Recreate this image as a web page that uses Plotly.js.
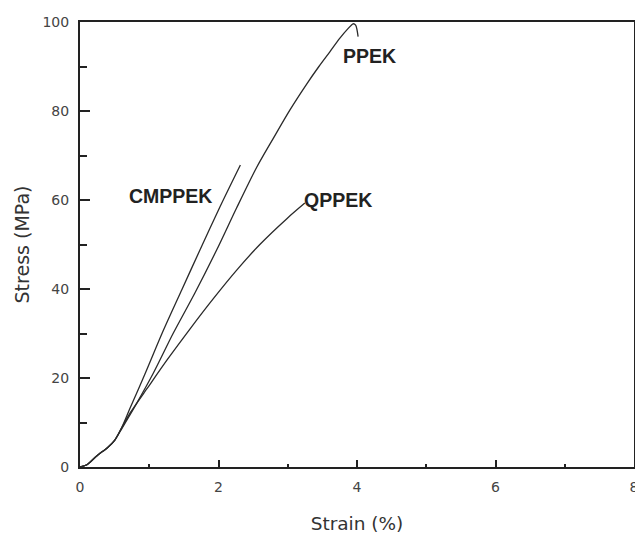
<!DOCTYPE html>
<html>
<head>
<meta charset="utf-8">
<script src="https://cdn.plot.ly/plotly-3.0.1.min.js"></script>
<style>html,body{margin:0;padding:0;background:#fff;}#chart{width:635px;height:534px;}</style>
</head>
<body>
<div id="chart"></div>
<script>
// Strain (%) and Stress (MPa)
const ppekStrain = [0, 0.10, 0.25, 0.40, 0.50, 0.606, 0.818, 1.058, 1.346, 1.659, 1.973, 2.261, 2.55, 2.789, 3.03, 3.271, 3.45, 3.608, 3.75, 3.87, 3.944, 3.98, 4.016];
const ppekStress = [0, 0.5, 2.6, 4.4, 6.0, 8.7, 14.3, 21.06, 30.04, 39.1, 48.76, 58.2, 67.3, 73.8, 80.2, 86.0, 90.0, 93.3, 96.3, 98.5, 99.6, 99.3, 96.7];

const cmppekStrain = [0, 0.10, 0.25, 0.40, 0.50, 0.606, 0.722, 0.938, 1.198, 1.472, 1.732, 2.020, 2.316];
const cmppekStress = [0, 0.5, 2.6, 4.4, 6.0, 8.99, 13.2, 20.9, 30.5, 39.9, 48.76, 58.43, 67.87];

const qppekStrain = [0, 0.10, 0.25, 0.40, 0.50, 0.606, 0.722, 0.967, 1.255, 1.587, 1.934, 2.266, 2.597, 2.987, 3.247];
const qppekStress = [0, 0.5, 2.6, 4.4, 6.0, 8.9, 12.1, 17.6, 24.0, 31.0, 38.0, 44.3, 50.0, 55.8, 59.3];

const seriesNames = ["PPEK", "CMPPEK", "QPPEK"];
const labelX = [4.185, 1.30, 3.72];
const labelY = [92.4, 60.9, 60.0];

const xTickVals = [0, 2, 4, 6, 8];
const yTickVals = [0, 20, 40, 60, 80, 100];

const lineStyle = {color: '#2a2a2a', width: 1.3, shape: 'spline', smoothing: 0.8};
const traces = [
  {x: ppekStrain, y: ppekStress, name: seriesNames[0], mode: 'lines', line: lineStyle},
  {x: cmppekStrain, y: cmppekStress, name: seriesNames[1], mode: 'lines', line: lineStyle},
  {x: qppekStrain, y: qppekStress, name: seriesNames[2], mode: 'lines', line: lineStyle}
];

const annotations = seriesNames.map((n, i) => ({
  x: labelX[i], y: labelY[i], xref: 'x', yref: 'y', text: '<b>' + n + '</b>',
  showarrow: false, xanchor: 'center', yanchor: 'middle',
  font: {family: 'Liberation Sans, Arial, sans-serif', size: 19.5, color: '#222'}
}));

const layout = {
  width: 635, height: 534,
  margin: {l: 80, r: 1, t: 22, b: 67},
  paper_bgcolor: '#fff', plot_bgcolor: '#fff',
  showlegend: false,
  font: {family: 'DejaVu Sans, sans-serif', color: '#333'},
  xaxis: {
    range: [0, 8], tickvals: xTickVals, ticktext: xTickVals.map(String),
    showgrid: false, zeroline: false,
    showline: true, linecolor: '#222', linewidth: 2, mirror: true,
    ticks: 'inside', ticklen: 7, tickwidth: 2, tickcolor: '#222',
    ticklabelstandoff: 6, ticklabeloverflow: 'allow',
    minor: {dtick: 1, tick0: 0, ticks: 'inside', ticklen: 3, tickwidth: 2, tickcolor: '#222', showgrid: false},
    tickfont: {family: 'DejaVu Sans, sans-serif', size: 14, color: '#444'},
    title: {text: 'Strain (%)', font: {family: 'DejaVu Sans, sans-serif', size: 18.5, color: '#333'}, standoff: 25}
  },
  yaxis: {
    range: [0, 100], tickvals: yTickVals, ticktext: yTickVals.map(String),
    showgrid: false, zeroline: false,
    showline: true, linecolor: '#222', linewidth: 2, mirror: true,
    ticks: 'inside', ticklen: 10, tickwidth: 2, tickcolor: '#222',
    ticklabelstandoff: 6,
    minor: {dtick: 10, tick0: 0, ticks: 'inside', ticklen: 7, tickwidth: 2, tickcolor: '#222', showgrid: false},
    tickfont: {family: 'DejaVu Sans, sans-serif', size: 14, color: '#444'},
    title: {text: 'Stress (MPa)', font: {family: 'DejaVu Sans, sans-serif', size: 19, color: '#333'}, standoff: 8}
  },
  annotations: annotations
};

Plotly.newPlot('chart', traces, layout, {staticPlot: true, displayModeBar: false});
</script>
</body>
</html>
